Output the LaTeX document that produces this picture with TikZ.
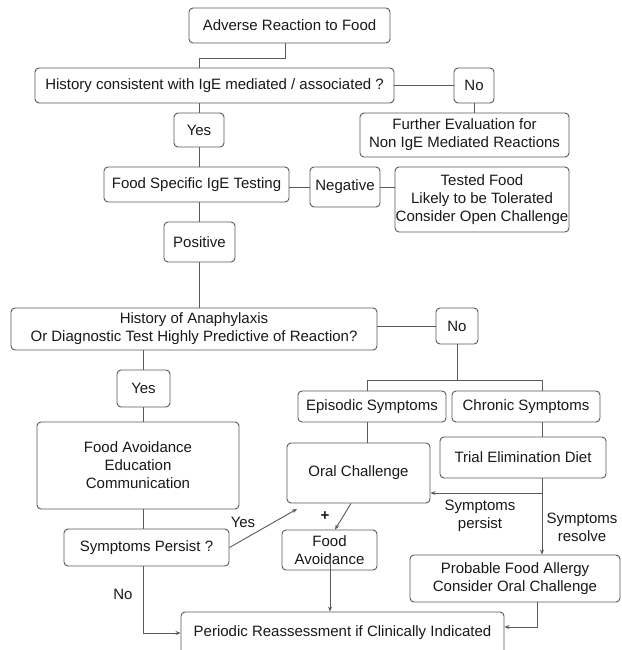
\documentclass[tikz,border=0pt]{standalone}
\usepackage{fontspec}
\setmainfont{Liberation Sans}
\usetikzlibrary{arrows.meta,calc}
\begin{document}
\begin{tikzpicture}[x=1pt,y=-1pt,
  every node/.style={font=\fontsize{15}{18}\selectfont, text=black!90},
  box/.style={draw=black!65, line width=0.9pt, rounded corners=4pt, align=center, inner sep=0pt},
  con/.style={draw=black!65, line width=0.9pt},
  arr/.style={con, -{Stealth[length=5pt,width=4pt]}},
  lbl/.style={align=center, inner sep=0pt}]
\useasboundingbox (0,0) rectangle (621,650);
\fill[white] (0,0) rectangle (621,650);
% nodes
\node[box, minimum width=201pt, minimum height=35pt] (adv) at (289.5,25.5) {Adverse Reaction to Food};
\node[box, minimum width=359pt, minimum height=35pt] (hist) at (214.5,85.5) {History consistent with IgE mediated / associated ?};
\node[box, minimum width=40pt, minimum height=35pt] (no1) at (474,85.5) {No};
\node[box, minimum width=209pt, minimum height=44pt] (further) at (464.5,135) {Further Evaluation for\\Non IgE Mediated Reactions};
\node[box, minimum width=50pt, minimum height=34pt] (yes1) at (199,130) {Yes};
\node[box, minimum width=185pt, minimum height=35pt] (fsi) at (196.5,184.5) {Food Specific IgE Testing};
\node[box, minimum width=70pt, minimum height=40pt] (neg) at (345,187) {Negative};
\node[box, minimum width=174pt, minimum height=65pt] (tested) at (482,199.5) {Tested Food\\Likely to be Tolerated\\Consider Open Challenge};
\node[box, minimum width=71pt, minimum height=40pt] (pos) at (199.5,242) {Positive};
\node[box, minimum width=366pt, minimum height=42pt] (hoa) at (194,329) {History of Anaphylaxis\\Or Diagnostic Test Highly Predictive of Reaction?};
\node[box, minimum width=42pt, minimum height=36pt] (no2) at (457,326) {No};
\node[box, minimum width=53pt, minimum height=37pt] (yes2) at (143.5,388.5) {Yes};
\node[box, minimum width=202pt, minimum height=87pt] (fav) at (138,465.5) {Food Avoidance\\Education\\Communication};
\node[box, minimum width=148pt, minimum height=31pt] (epi) at (372,406.5) {Episodic Symptoms};
\node[box, minimum width=148pt, minimum height=31pt] (chr) at (526,406.5) {Chronic Symptoms};
\node[box, minimum width=143pt, minimum height=60pt] (oral) at (358.5,473) {Oral Challenge};
\node[box, minimum width=166pt, minimum height=41pt] (trial) at (523,457.5) {Trial Elimination Diet};
\node[box, minimum width=165pt, minimum height=37pt] (sp) at (146.5,547.5) {Symptoms Persist ?};
\node[box, minimum width=95pt, minimum height=40pt] (favd) at (329.5,550) {Food\\Avoidance};
\node[box, minimum width=210pt, minimum height=47pt] (prob) at (515,578.5) {Probable Food Allergy\\Consider Oral Challenge};
\node[box, minimum width=323pt, minimum height=42pt] (per) at (342.5,633) {Periodic Reassessment if Clinically Indicated};
% labels
\node[lbl] (lno) at (123,594) {No};
\node[lbl] (lyes) at (243,522) {Yes};
\node[lbl] (lplus) at (325,516) {\textbf{+}};
\node[lbl] (lsp) at (480,516) {Symptoms\\persist};
\node[lbl] (lsr) at (582,527) {Symptoms\\resolve};
% coordinates
\coordinate (e1) at (285,58);
\coordinate (cN) at (457,380);
\coordinate (cL) at (367,380);
\coordinate (cR) at (542,380);
\coordinate (sp1) at (542,493);
\coordinate (pe) at (537,627);
\coordinate (ot) at (297,509);
\coordinate (fx) at (330,560);
% connectors
\draw[con] (adv.south -| e1) -- (e1) -| (yes1 |- hist.north);
\draw[con] (no1.west -| hist.east) -- (no1.west);
\draw[con] (no1.south) -- (no1.south |- further.north);
\draw[con] (yes1 |- hist.south) -- (yes1.north);
\draw[con] (yes1.south) -- (yes1 |- fsi.north);
\draw[con] (neg.west -| fsi.east) -- (neg.west);
\draw[con] (neg.east) -- (neg.east -| tested.west);
\draw[con] (yes1 |- fsi.south) -- (yes1 |- pos.north);
\draw[con] (yes1 |- pos.south) -- (yes1 |- hoa.north);
\draw[con] (no2.west -| hoa.east) -- (no2.west);
\draw[con] (no2.south) -- (cN);
\draw[con] (cL |- epi.north) -- (cL) -- (cR) -- (cR |- chr.north);
\draw[con] (cL |- epi.south) -- (cL |- oral.north);
\draw[con] (cR |- chr.south) -- (cR |- trial.north);
\draw[arr] (cR |- trial.south) -- (cR |- prob.north);
\draw[arr] (sp1) -- (sp1 -| oral.east);
\draw[con] (yes2 |- hoa.south) -- (yes2.north);
\draw[con] (yes2.south) -- (yes2 |- fav.north);
\draw[con] (yes2 |- fav.south) -- (yes2 |- sp.north);
\draw[arr] (yes2 |- sp.south) |- (per.west);
\draw[arr] (sp.east) -- (ot);
\draw[arr] ($(oral.south)+(-7.5,0)$) -- ($(favd.north)+(5.5,0)$);
\draw[arr] (fx) -- (fx |- per.north);
\draw[arr] (pe |- prob.south) -- (pe) -- (pe -| per.east);
\end{tikzpicture}
\end{document}
